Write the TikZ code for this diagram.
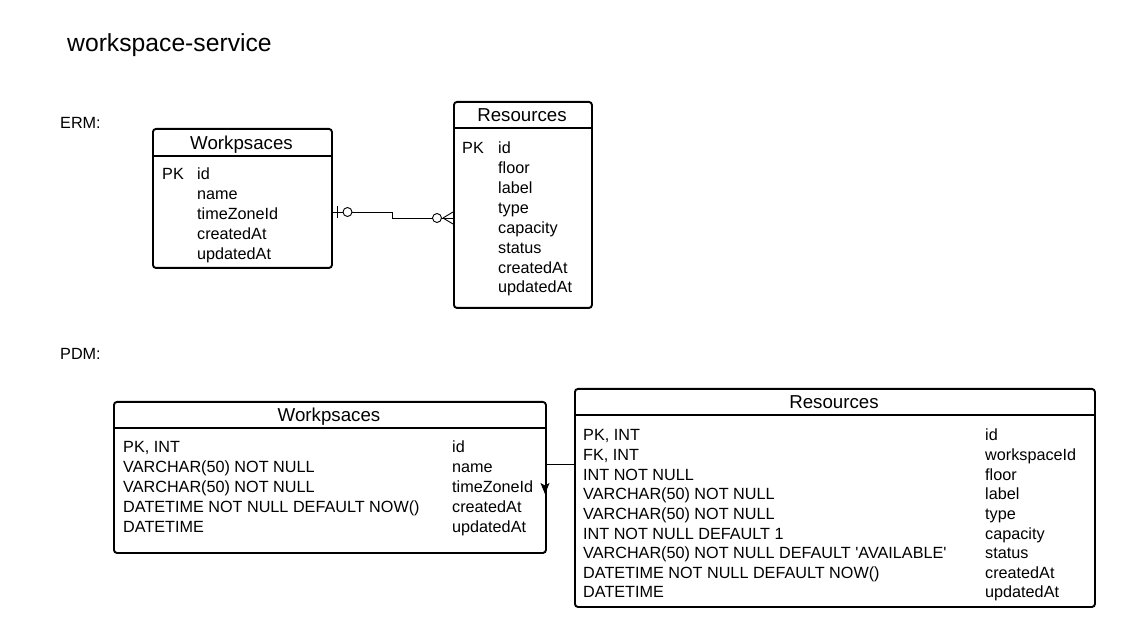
\documentclass[tikz,border=0pt]{standalone}
\usepackage{fontspec}
\newfontfamily\arialf{Liberation Sans}
\usetikzlibrary{arrows.meta}
\begin{document}
\begin{tikzpicture}[x=1pt,y=-1pt,
  tbl/.style={draw=black,line width=1.9pt,rounded corners=3pt,fill=white,inner sep=0pt,anchor=north west},
  sepline/.style={draw=black,line width=1.9pt},
  hdr/.style={font=\arialf\fontsize{18.7}{22}\selectfont,anchor=base,inner sep=0pt},
  fld/.style={font=\arialf\fontsize{16.2}{19}\selectfont,anchor=base west,inner sep=0pt},
  conn/.style={draw=black,line width=0.9pt},
]
\useasboundingbox (0,0) rectangle (1128,636);
\fill[white] (0,0) rectangle (1128,636);

\node[anchor=base west,inner sep=0pt,font=\arialf\fontsize{24.7}{28}\selectfont] (title) at (67,52) {workspace-service};
\node[fld] (erm) at (60,129) {ERM:};
\node[fld] (pdm) at (60,360) {PDM:};

% ---------- ERM: Workpsaces
\node[tbl,minimum width=179pt,minimum height=139pt] (ew) at (152,128) {};
\draw[sepline] (152,156) -- (331,156);
\node[hdr] (ewT) at (241.5,149.5) {Workpsaces};
\node[fld] (ewPK) at (162,180) {PK};
\foreach \t [count=\i from 0] in {id,name,timeZoneId,createdAt,updatedAt}
  \node[fld] (ewF\i) at (197,180+20*\i) {\t};

% ---------- ERM: Resources
\node[tbl,minimum width=138pt,minimum height=206pt] (er) at (453,101) {};
\draw[sepline] (453,128) -- (591,128);
\node[hdr] (erT) at (522,121.5) {Resources};
\node[fld] (erPK) at (462,153.7) {PK};
\foreach \t [count=\i from 0] in {id,floor,label,type,capacity,status,createdAt,updatedAt}
  \node[fld] (erF\i) at (498,153.7+19.9*\i) {\t};

% ---------- ERM connector (one-or-zero to zero-or-many)
\coordinate (c1) at (331,212);
\coordinate (cm) at (392,215);
\coordinate (c2) at (453,218);
\draw[conn] (c1) -- (c1 -| cm) -- (cm |- c2) -- (c2);
\draw[conn] (337,206) -- (337,218);
\draw[conn,fill=white] (347.5,212) circle[radius=4.5];
\draw[conn] (443,218) -- (453,212);
\draw[conn] (443,218) -- (453,224);
\draw[conn,fill=white] (437,218) circle[radius=4.5];

% ---------- PDM: Workpsaces
\node[tbl,minimum width=432pt,minimum height=151pt] (pw) at (113,401) {};
\draw[sepline] (113,428) -- (545,428);
\node[hdr] (pwT) at (329,421.5) {Workpsaces};
\foreach \a/\b [count=\i from 0] in {{PK, INT}/id,{VARCHAR(50) NOT NULL}/name,{VARCHAR(50) NOT NULL}/timeZoneId,{DATETIME NOT NULL DEFAULT NOW()}/createdAt,{DATETIME}/updatedAt}{
  \node[fld] (pwL\i) at (123,453+19.8*\i) {\a};
  \node[fld] (pwR\i) at (452,453+19.8*\i) {\b};
}

% ---------- PDM: Resources
\node[tbl,minimum width=520pt,minimum height=218pt] (pr) at (574,388) {};
\draw[sepline] (574,415) -- (1094,415);
\node[hdr] (prT) at (834,408.5) {Resources};
\foreach \a/\b [count=\i from 0] in {{PK, INT}/id,{FK, INT}/workspaceId,{INT NOT NULL}/floor,{VARCHAR(50) NOT NULL}/label,{VARCHAR(50) NOT NULL}/type,{INT NOT NULL DEFAULT 1}/capacity,{VARCHAR(50) NOT NULL DEFAULT 'AVAILABLE'}/status,{DATETIME NOT NULL DEFAULT NOW()}/createdAt,{DATETIME}/updatedAt}{
  \node[fld] (prL\i) at (583,441+19.6*\i) {\a};
  \node[fld] (prR\i) at (985,441+19.6*\i) {\b};
}

% ---------- PDM connector
\coordinate (p1) at (574,464);
\coordinate (p2) at (545,494);
\draw[conn,-{Stealth[length=11pt,width=9pt,inset=2.5pt]}] (p1) -| (p2);
\end{tikzpicture}
\end{document}
